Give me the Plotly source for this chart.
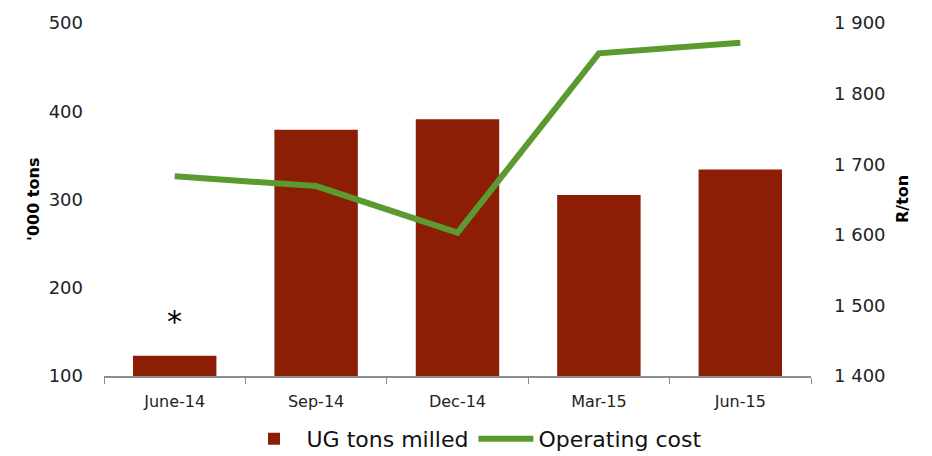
import plotly.graph_objects as go

categories = ["June-14", "Sep-14", "Dec-14", "Mar-15", "Jun-15"]
ug_tons_milled = [123, 379, 391, 305, 334]
operating_cost = [1683, 1669, 1603, 1857, 1872]
left_ticks = [100, 200, 300, 400, 500]
right_ticks = [1400, 1500, 1600, 1700, 1800, 1900]
right_ticktext = ["1 400", "1 500", "1 600", "1 700", "1 800", "1 900"]

FONT = "DejaVu Sans"

fig = go.Figure()
fig.add_trace(go.Bar(
    x=categories, y=ug_tons_milled, name="UG tons milled",
    marker=dict(color="#8B1E05", line=dict(width=0)), width=0.59, yaxis="y"))
fig.add_trace(go.Scatter(
    x=categories, y=operating_cost, name="Operating cost", mode="lines",
    line=dict(color="#5B9A2F", width=6), yaxis="y2"))

fig.add_annotation(x=categories[0], y=ug_tons_milled[0], yref="y", text="*",
                   showarrow=False, yshift=34, font=dict(size=30, color="#000", family=FONT))

fig.add_annotation(x=0, xref="paper", y=0.5, yref="paper", xshift=-82, text="<b>'000 tons</b>",
                   textangle=-90, showarrow=False, font=dict(size=16, color="#000", family=FONT))
fig.add_annotation(x=1, xref="paper", y=0.5, yref="paper", xshift=103, text="<b>R/ton</b>",
                   textangle=-90, showarrow=False, font=dict(size=16, color="#000", family=FONT))

fig.update_layout(
    width=932, height=456,
    margin=dict(l=96, r=129, t=15, b=88, autoexpand=False),
    paper_bgcolor="white", plot_bgcolor="white",
    font=dict(family=FONT, color="#222"),
    showlegend=True,
    legend=dict(orientation="h", x=0.5, xref="container", xanchor="center",
                y=0.055, yref="container", yanchor="middle",
                font=dict(size=22, color="#111"), itemwidth=55),
    xaxis=dict(showline=True, linecolor="#8c8c8c", linewidth=2, automargin=False,
               ticks="outside", tickson="boundaries", ticklen=6, tickcolor="#8c8c8c",
               ticklabelstandoff=10,
               tickfont=dict(size=16, color="#222"), showgrid=False),
    yaxis=dict(range=[100, 500], tickvals=left_ticks, showgrid=False, automargin=False,
               showline=False, zeroline=False, ticks="", ticklabelstandoff=20,
               tickfont=dict(size=18, color="#222")),
    yaxis2=dict(range=[1400, 1900], tickvals=right_ticks, ticktext=right_ticktext,
                overlaying="y", side="right", showgrid=False, showline=False, automargin=False,
                zeroline=False, ticks="", ticklabelstandoff=22,
                tickfont=dict(size=18, color="#222")),
)

fig.write_html("out.html")
